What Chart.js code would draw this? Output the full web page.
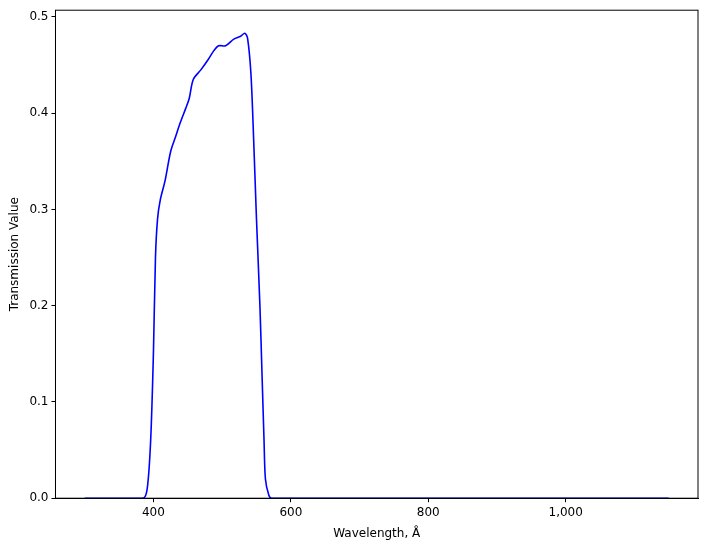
<!DOCTYPE html>
<html>
<head>
<script src="https://cdn.jsdelivr.net/npm/chart.js@4"></script>
<style>body{margin:0;background:#fff}#wrap{width:711px;height:549px}</style>
</head>
<body>
<div id="wrap"><canvas id="c"></canvas></div>
<script>
const wavelengths = [300, 385, 391, 396, 400, 403, 406, 410, 417, 425, 432, 439, 447, 452, 458, 469, 479, 488, 495, 505, 517, 527, 533, 537, 542, 546, 550, 555, 558, 561, 563, 568, 572, 700, 900, 1150];
const transmission = [0, 0, 0.01, 0.06, 0.15, 0.25, 0.29, 0.31, 0.33, 0.36, 0.375, 0.39, 0.405, 0.415, 0.435, 0.445, 0.455, 0.465, 0.47, 0.47, 0.477, 0.48, 0.483, 0.478, 0.44, 0.37, 0.29, 0.2, 0.13, 0.06, 0.02, 0.003, 0, 0, 0, 0];
const xTicks = [400, 600, 800, 1000];
const yTicks = [0, 0.1, 0.2, 0.3, 0.4, 0.5];

const points = wavelengths.map((w, i) => ({x: w, y: transmission[i]}));

const frame = {
  id: 'frame',
  afterDraw(chart) {
    const a = chart.chartArea, ctx = chart.ctx;
    ctx.save();
    ctx.strokeStyle = '#000';
    ctx.lineWidth = 1;
    ctx.strokeRect(a.left, a.top, a.right - a.left, a.bottom - a.top);
    ctx.restore();
  }
};

const tickOpts = {color: '#000', font: {family: 'DejaVu Sans', size: 12}};

new Chart(document.getElementById('c'), {
  type: 'line',
  data: {
    datasets: [{
      data: points,
      borderColor: 'blue',
      borderWidth: 1.6,
      pointRadius: 0,
      tension: 0.3,
      fill: false
    }]
  },
  options: {
    responsive: true,
    maintainAspectRatio: false,
    animation: false,
    layout: {padding: {top: 10, right: 13, left: 4, bottom: 4}},
    plugins: {legend: {display: false}, tooltip: {enabled: false}},
    scales: {
      x: {
        type: 'linear',
        min: 257.5,
        max: 1192.5,
        afterBuildTicks: axis => { axis.ticks = xTicks.map(v => ({value: v})); },
        grid: {drawOnChartArea: false, color: '#000', tickLength: 4},
        border: {color: '#000'},
        ticks: tickOpts,
        title: {display: true, text: 'Wavelength, Å', color: '#000', font: {family: 'DejaVu Sans', size: 12}}
      },
      y: {
        min: 0,
        max: 0.507,
        afterBuildTicks: axis => { axis.ticks = yTicks.map(v => ({value: v})); },
        grid: {drawOnChartArea: false, color: '#000', tickLength: 4},
        border: {color: '#000'},
        ticks: Object.assign({callback: v => v.toFixed(1)}, tickOpts),
        title: {display: true, text: 'Transmission Value', color: '#000', font: {family: 'DejaVu Sans', size: 12}}
      }
    }
  },
  plugins: [frame]
});
</script>
</body>
</html>
